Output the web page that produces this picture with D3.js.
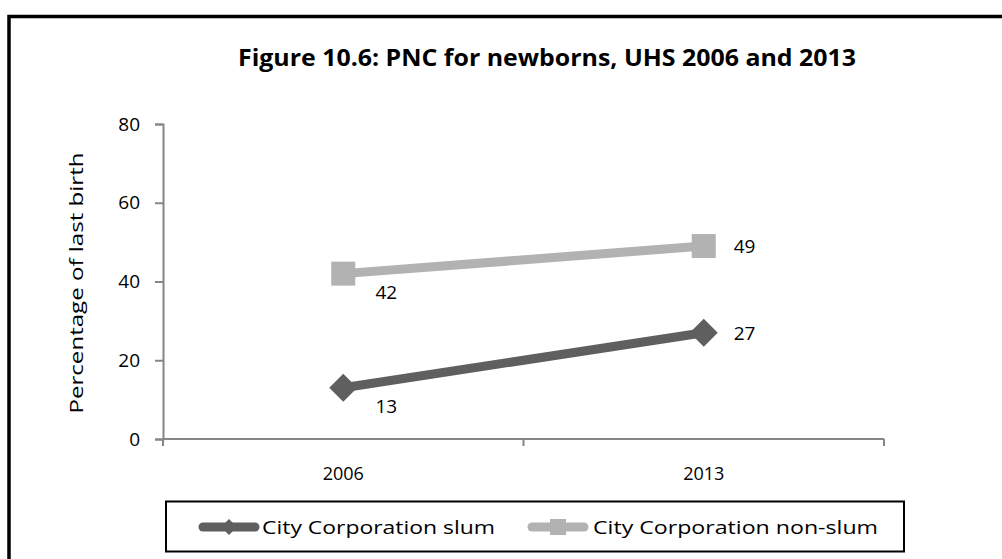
<!DOCTYPE html>
<html>
<head>
<meta charset="utf-8">
<script src="https://cdn.jsdelivr.net/npm/d3@7"></script>
<style>
  html, body { margin: 0; padding: 0; background: #fff; }
  svg { display: block; }
  text { font-family: "Open Sans", Lato, sans-serif; fill: #000; }
</style>
</head>
<body>
<svg id="chart" width="1002" height="559"></svg>
<script>
// Survey years and series values (percent of last births with newborn PNC)
const years = ["2006", "2013"];
const slumValues = [13, 27];
const nonSlumValues = [42, 49];
const seriesNames = ["City Corporation slum", "City Corporation non-slum"];
const yTicks = [0, 20, 40, 60, 80];

const svg = d3.select("#chart");
const W = 1002, H = 559;

svg.append("rect").attr("width", W).attr("height", H).attr("fill", "#fff");

// outer frame, running past the right and bottom edges
svg.append("rect")
  .attr("x", 9).attr("y", 16.5)
  .attr("width", 1100).attr("height", 700)
  .attr("fill", "none").attr("stroke", "#000").attr("stroke-width", 3.5);

// title
svg.append("text")
  .attr("x", 547).attr("y", 66)
  .attr("text-anchor", "middle")
  .attr("font-size", 23).attr("font-weight", "bold")
  .attr("textLength", 618).attr("lengthAdjust", "spacingAndGlyphs")
  .text("Figure 10.6:  PNC for newborns, UHS 2006  and 2013");

const plot = { left: 163, right: 884, top: 124, bottom: 439 };

const x = d3.scaleBand().domain(years).range([plot.left, plot.right]);
const y = d3.scaleLinear().domain([0, 80]).range([plot.bottom, plot.top]);

const axisColor = "#868686";

// y axis
const yAxis = svg.append("g")
  .attr("transform", `translate(${plot.left},0)`)
  .call(d3.axisLeft(y).tickValues(yTicks).tickSize(8).tickPadding(15).tickFormat(d3.format("d")));
yAxis.select(".domain").attr("stroke", axisColor).attr("stroke-width", 2);
yAxis.selectAll(".tick line").attr("stroke", axisColor).attr("stroke-width", 2);
yAxis.selectAll(".tick text").attr("font-size", 19).attr("fill", "#000");

// x axis with ticks at band boundaries
const xAxis = svg.append("g")
  .attr("transform", `translate(0,${plot.bottom})`);
xAxis.append("line")
  .attr("x1", plot.left).attr("x2", plot.right)
  .attr("stroke", axisColor).attr("stroke-width", 2);
const boundaries = years.map(d => x(d)).concat([x(years[years.length - 1]) + x.bandwidth()]);
xAxis.selectAll("line.tick")
  .data(boundaries)
  .join("line")
  .attr("class", "tick")
  .attr("x1", d => d).attr("x2", d => d)
  .attr("y1", 0).attr("y2", 7)
  .attr("stroke", axisColor).attr("stroke-width", 2);
xAxis.selectAll("text")
  .data(years)
  .join("text")
  .attr("x", d => x(d) + x.bandwidth() / 2)
  .attr("y", 41)
  .attr("text-anchor", "middle")
  .attr("font-size", 18)
  .text(d => d);

// y axis title
svg.append("text")
  .attr("transform", `translate(83,283) rotate(-90)`)
  .attr("text-anchor", "middle")
  .attr("font-size", 19)
  .attr("textLength", 261).attr("lengthAdjust", "spacingAndGlyphs")
  .text("Percentage  of last birth");

const cx = d => x(d) + x.bandwidth() / 2;

const series = [
  { name: seriesNames[0], values: slumValues, color: "#5f5f5f", shape: "diamond" },
  { name: seriesNames[1], values: nonSlumValues, color: "#b2b2b2", shape: "square" }
];

const line = d3.line().x(d => cx(d.year)).y(d => y(d.value));

function drawMarker(g, shape, color, px, py, size) {
  if (shape === "diamond") {
    const r = size / 2;
    g.append("path")
      .attr("d", `M${px},${py - r}L${px + r},${py}L${px},${py + r}L${px - r},${py}Z`)
      .attr("fill", color);
  } else {
    g.append("rect")
      .attr("x", px - size / 2).attr("y", py - size / 2)
      .attr("width", size).attr("height", size)
      .attr("fill", color);
  }
}

const marks = svg.append("g");
series.forEach(s => {
  const pts = years.map((yr, i) => ({ year: yr, value: s.values[i] }));
  marks.append("path")
    .datum(pts)
    .attr("d", line)
    .attr("fill", "none")
    .attr("stroke", s.color)
    .attr("stroke-width", 9);
  pts.forEach(p => {
    drawMarker(marks, s.shape, s.color, cx(p.year), y(p.value), s.shape === "diamond" ? 28 : 24);
  });
});

// value labels: first year sits below-right, last year to the right
const labels = svg.append("g");
series.forEach(s => {
  years.forEach((yr, i) => {
    const v = s.values[i];
    const first = i === 0;
    labels.append("text")
      .attr("x", cx(yr) + (first ? 43 : 30))
      .attr("y", y(v) + (first ? 25 : 7))
      .attr("text-anchor", first ? "middle" : "start")
      .attr("font-size", 19)
      .text(v);
  });
});

// legend
const legend = svg.append("g");
legend.append("rect")
  .attr("x", 166).attr("y", 501.5)
  .attr("width", 738).attr("height", 50)
  .attr("fill", "#fff").attr("stroke", "#000").attr("stroke-width", 2);

const legendItems = [
  { s: series[0], lx: 199, tx: 262, tw: 233 },
  { s: series[1], lx: 528, tx: 593, tw: 285 }
];
legendItems.forEach(it => {
  const ly = 527;
  legend.append("line")
    .attr("x1", it.lx + 4).attr("x2", it.lx + 56)
    .attr("y1", ly).attr("y2", ly)
    .attr("stroke", it.s.color).attr("stroke-width", 9)
    .attr("stroke-linecap", "round");
  drawMarker(legend, it.s.shape, it.s.color, it.lx + 30, ly, 16);
  legend.append("text")
    .attr("x", it.tx).attr("y", ly + 7)
    .attr("font-size", 19)
    .attr("textLength", it.tw).attr("lengthAdjust", "spacingAndGlyphs")
    .text(it.s.name);
});
</script>
</body>
</html>
